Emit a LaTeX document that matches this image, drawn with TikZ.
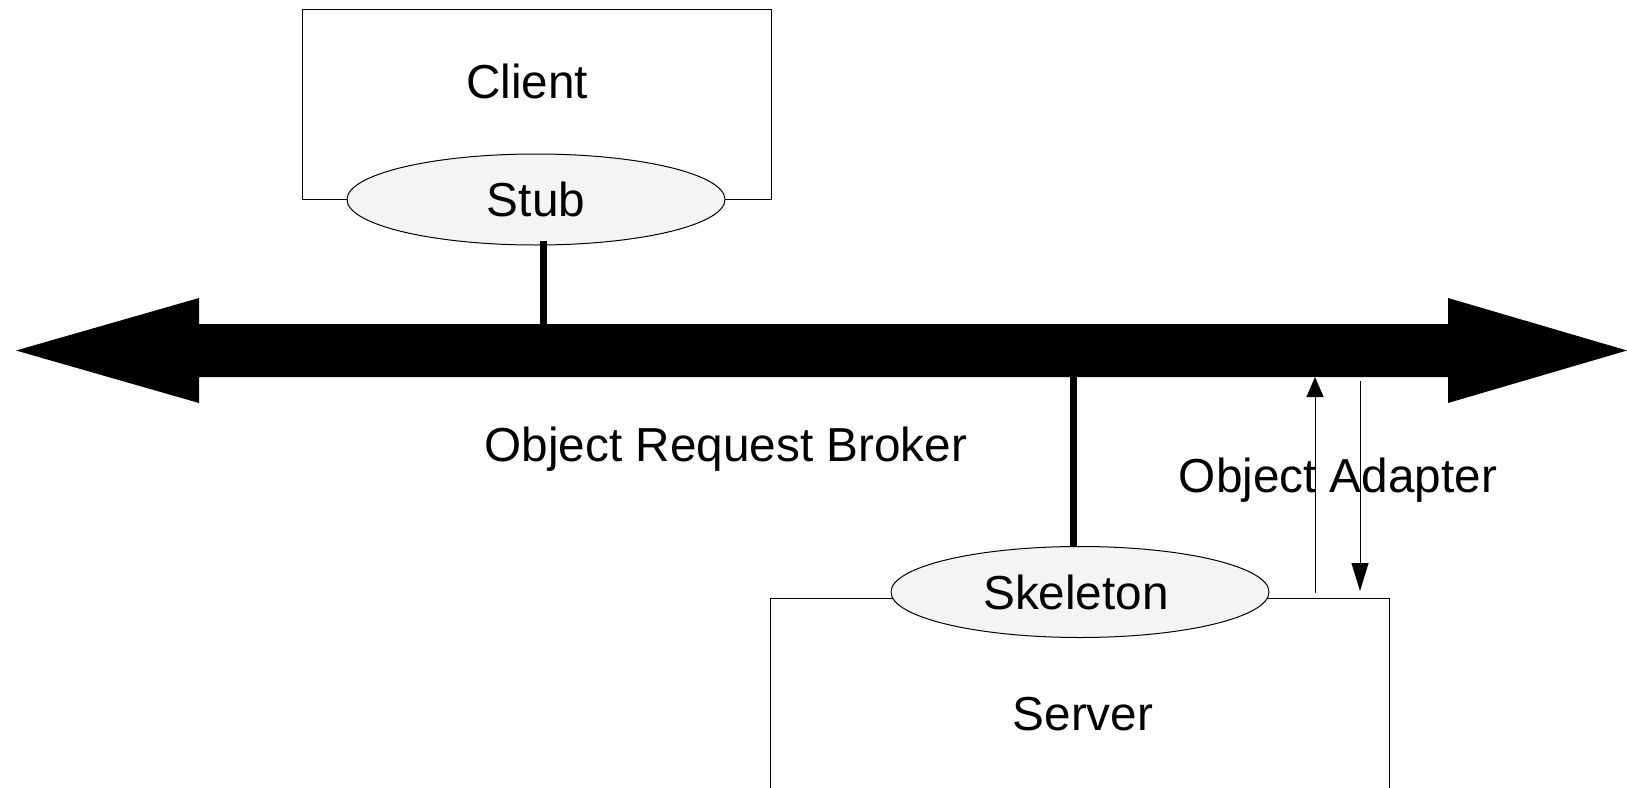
\documentclass[tikz,border=0pt]{standalone}
\usepackage{fontspec}
\setmainfont{Liberation Sans}
\usetikzlibrary{shapes.geometric,arrows.meta}
\definecolor{ellfill}{RGB}{244,244,244}
\tikzset{
  lbl/.style={font=\fontsize{47.7}{57}\selectfont, inner sep=0pt},
  iface/.style={ellipse, draw=black, line width=1pt, fill=ellfill, minimum width=378pt, minimum height=91pt, inner sep=0pt, font=\fontsize{47.7}{57}\selectfont},
  boxline/.style={draw=black, line width=1pt},
  thick link/.style={line width=7pt, draw=black},
  oaup/.style={line width=1pt, draw=black, -{Triangle[length=20pt,width=17pt]}},
  oadown/.style={line width=1pt, draw=black, -{Triangle[length=28pt,width=17pt]}}
}
\begin{document}
\begin{tikzpicture}[x=1pt,y=-1pt]
\useasboundingbox (0,0) rectangle (1627,787);
% ORB bar with two heads
\coordinate (orbtop) at (0,324);
\coordinate (orbbot) at (0,377);
\fill[black] (16,350.5) -- (199,298) -- (199,324) -- (1448,324) -- (1448,298) -- (1627,350.5)
  -- (1448,403) -- (1448,377) -- (199,377) -- (199,403) -- cycle;
% Client box
\draw[boxline] (302,199) -- (302,9) -- (771,9) -- (771,199) -- cycle;
\node[lbl] (client) at (527,81) {Client};
\node[iface] (stub) at (536,199.5) {Stub};
% Server box
\draw[boxline] (770,790) -- (770,598) -- (1389,598) -- (1389,790);
\node[lbl] (server) at (1083,714) {Server};
\node[iface] (skel) at (1080,592) {\hspace*{-8pt}Skeleton};
% links
\coordinate (stublink) at (543,241);
\coordinate (skellink) at (1073,547);
\draw[thick link] (stublink) -- (stublink |- orbtop);
\draw[thick link] (skellink) -- (skellink |- orbbot);
% labels
\node[lbl] (orblbl) at (726,449) {Object Request Broker};
\node[lbl] (oalbl) at (1338,480) {Object Adapter};
% object adapter arrows
\coordinate (upstart) at (1315,593);
\coordinate (downstart) at (1360,381);
\coordinate (downend) at (1360,591);
\draw[oaup] (upstart) -- (upstart |- orbbot);
\draw[oadown] (downstart) -- (downend);
\end{tikzpicture}
\end{document}
